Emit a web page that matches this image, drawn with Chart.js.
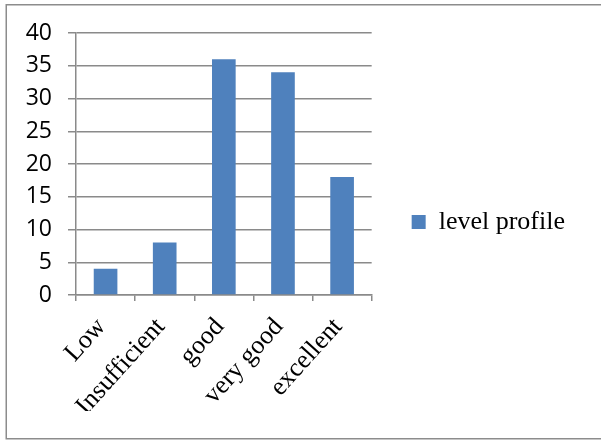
<!DOCTYPE html>
<html>
<head>
<meta charset="utf-8">
<script src="https://cdn.jsdelivr.net/npm/chart.js@4/dist/chart.umd.min.js"></script>
<style>
  html, body { margin: 0; padding: 0; background: #fff; }
  #wrap { width: 601px; height: 441px; position: relative; }
</style>
</head>
<body>
<div id="wrap"><canvas id="c" width="601" height="441"></canvas></div>
<script>
// Category labels and counts per level
const categories = ["Low", "Insufficient", "good", "very good", "excellent"];
const levelProfile = [4, 8, 36, 34, 18];
const seriesName = "level profile";
const yMin = 0, yMax = 40, yStep = 5;

const gridGray = "#8a8a8a";

// Let the side legend take the width its label needs instead of the
// default cap of a quarter of the canvas.
const LegendElement = Chart.Legend && Chart.Legend._element;
if (LegendElement) {
  const baseFit = LegendElement.prototype.fit;
  LegendElement.prototype.fit = function () {
    this.maxWidth = Math.max(this.maxWidth || 0, 260);
    baseFit.call(this);
  };
}

// Outer frame around the chart (open on the right side)
const framePlugin = {
  id: "frame",
  beforeDraw(chart) {
    const ctx = chart.ctx;
    ctx.save();
    ctx.fillStyle = "#fff";
    ctx.fillRect(0, 0, chart.width, chart.height);
    ctx.strokeStyle = "#8c8c8c";
    ctx.lineWidth = 1.5;
    ctx.strokeRect(6.25, 4.75, chart.width + 20, 434);
    ctx.restore();
  }
};

new Chart(document.getElementById("c"), {
  type: "bar",
  data: {
    labels: categories,
    datasets: [{
      label: seriesName,
      data: levelProfile,
      backgroundColor: "#4f81bd",
      borderWidth: 0,
      barPercentage: 0.4,
      categoryPercentage: 1.0
    }]
  },
  options: {
    responsive: false,
    animation: false,
    devicePixelRatio: 1,
    layout: { padding: { left: 6, right: 26, top: 33, bottom: 30 } },
    plugins: {
      tooltip: { enabled: false },
      legend: {
        position: "right",
        align: "center",
        labels: {
          color: "#000",
          font: { family: "'Liberation Serif', 'Times New Roman', serif", size: 26 },
          boxWidth: 14,
          boxHeight: 14,
          padding: 40
        }
      }
    },
    scales: {
      x: {
        grid: {
          display: true,
          drawOnChartArea: false,
          drawTicks: true,
          tickLength: 6,
          color: gridGray,
          lineWidth: 1.5
        },
        border: { display: true, color: gridGray, width: 1.5 },
        ticks: {
          color: "#000",
          font: { family: "'Liberation Serif', 'Times New Roman', serif", size: 26 },
          minRotation: 48,
          maxRotation: 48,
          autoSkip: false,
          padding: 11,
          labelOffset: -4
        },
        afterFit(scale) { scale.height = 116; }
      },
      y: {
        min: yMin,
        max: yMax,
        ticks: {
          stepSize: yStep,
          color: "#000",
          font: { family: "'Open Sans', 'Noto Sans', sans-serif", size: 23 },
          padding: 16
        },
        grid: {
          color: gridGray,
          lineWidth: 1.5,
          tickLength: 8,
          drawTicks: true
        },
        border: { display: true, color: gridGray, width: 1.5 },
        afterFit(scale) { scale.width = 70; }
      }
    }
  },
  plugins: [framePlugin]
});
</script>
</body>
</html>
